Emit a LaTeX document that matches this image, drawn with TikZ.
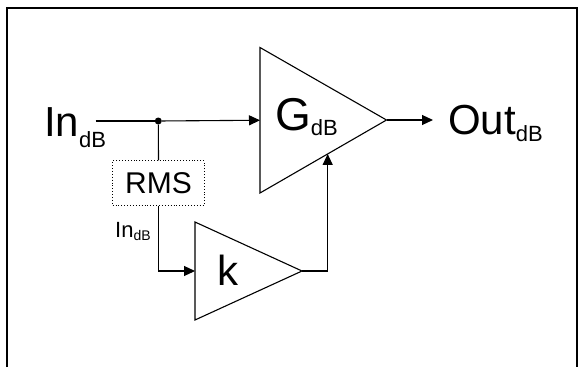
\documentclass[tikz,border=0pt]{standalone}
\usepackage{fontspec}
\setmainfont{Liberation Sans}
\usepackage{tikz}
\usetikzlibrary{calc,arrows.meta}
\newcommand{\wirewidth}{1.1pt}
\newcommand{\bigsize}{\fontsize{42}{42}\selectfont}
\newcommand{\subsize}{\fontsize{22}{22}\selectfont}
\newcommand{\dB}[1]{\raisebox{#1}{\subsize dB}}

\begin{document}
\begin{tikzpicture}[x=1pt,y=-1pt,
  wire/.style={line width=\wirewidth},
  sig/.style={wire,-{Triangle[length=11pt,width=10pt]}},
  amp/.style={line width=\wirewidth,line join=miter},
  lbl/.style={inner sep=0pt,anchor=base west}]
\useasboundingbox (0,0) rectangle (578,367);
\draw[line width=2pt] (7,367) -- (7,7.5) -- (576.5,7.5) -- (576.5,367);
%G
\coordinate (g1) at (260,47.5);
\coordinate (g2) at (260,193);
\coordinate (gout) at (386.5,120);
\coordinate (gin) at ($(g1)!0.5!(g2)$);
\coordinate (gfb) at ($(g2)!0.535!(gout)$);
\draw[amp] (g1) -- (gout) -- (g2) -- cycle;
%k
\coordinate (k1) at (195,222);
\coordinate (k2) at (195,320);
\coordinate (kout) at (302,271);
\coordinate (kin) at ($(k1)!0.5!(k2)$);
\draw[amp] (k1) -- (kout) -- (k2) -- cycle;
%labels
\node[lbl] (in) at (44,136) {\bigsize In\dB{-11pt}};
\node[lbl] (gain) at (275,130) {\fontsize{46}{46}\selectfont G\dB{-5pt}};
\node[lbl] (out) at (448,134.5) {\bigsize Out\dB{-7pt}};
\node[lbl] (kk) at (217,285) {\bigsize k};
\node[lbl] (inrms) at (115,237.5) {\fontsize{22}{22}\selectfont In\raisebox{-3pt}{\fontsize{14}{14}\selectfont dB}};
\node[fill,circle,inner sep=0pt,minimum size=7pt] (tap) at (158.3,121) {};
\node[draw,dotted,line width=0.9pt,minimum width=91.7pt,minimum height=44.3pt,inner sep=0pt] (rms) at (158.5,183) {\fontsize{30}{30}\selectfont RMS};
\coordinate (a) at (95.7,121);
\coordinate (b) at (433,120);
%wires
\draw[wire] (a) -- (tap);
\draw[sig] (tap) -- (gin);
\draw[wire] (tap) -- (rms.north);
\draw[sig] (rms.south) |- (kin);
\draw[sig] (kout) -| (gfb);
\draw[sig] (gout) -- (b);
\end{tikzpicture}
\end{document}
